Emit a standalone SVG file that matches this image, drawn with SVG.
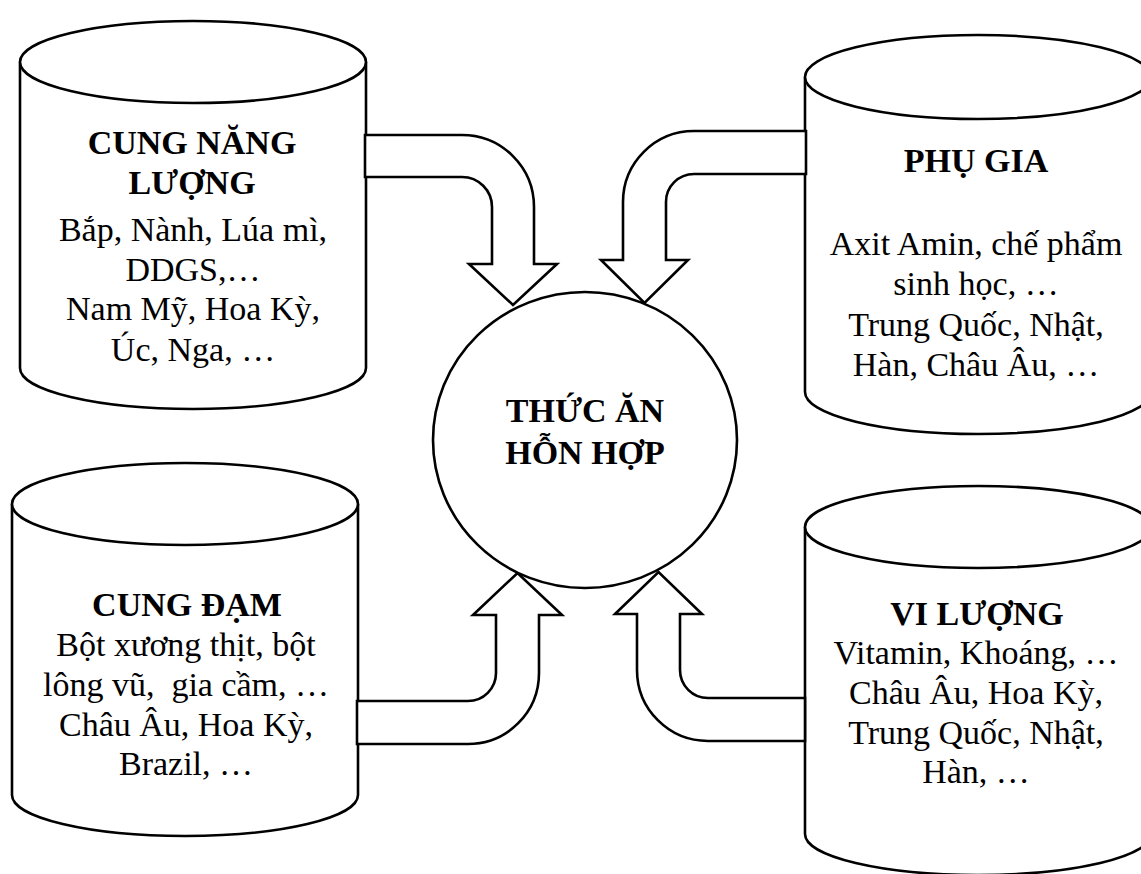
<svg xmlns="http://www.w3.org/2000/svg" width="1141" height="874" viewBox="0 0 1141 874">
  <style>
    .shape { fill: #fff; stroke: #000; stroke-width: 2.6; stroke-linejoin: miter; }
    .t { font-family: "Liberation Serif", "Times New Roman", serif; font-size: 34px; fill: #000; text-anchor: middle; }
    .b { font-weight: bold; }
  </style>
  <rect width="1141" height="874" fill="#fff"/>

  <!-- supply cylinders -->
  <g id="cung-nang-luong">
    <path class="shape" d="M20,62 V368 A173,41 0 0 0 366,368 V62"/>
    <ellipse class="shape" cx="193" cy="62" rx="173" ry="41"/>
    <text class="t b" x="192" y="154">CUNG NĂNG</text>
    <text class="t b" x="192" y="194">LƯỢNG</text>
    <text class="t" x="193" y="241">Bắp, Nành, Lúa mì,</text>
    <text class="t" x="193" y="281">DDGS,…</text>
    <text class="t" x="193" y="320">Nam Mỹ, Hoa Kỳ,</text>
    <text class="t" x="193" y="361">Úc, Nga, …</text>
  </g>

  <g id="phu-gia">
    <path class="shape" d="M805,77 V392 A173,42 0 0 0 1151,392 V77"/>
    <ellipse class="shape" cx="978" cy="77" rx="173" ry="42"/>
    <text class="t b" x="976" y="172">PHỤ GIA</text>
    <text class="t" x="976" y="255">Axit Amin, chế phẩm</text>
    <text class="t" x="976" y="295">sinh học, …</text>
    <text class="t" x="976" y="336">Trung Quốc, Nhật,</text>
    <text class="t" x="976" y="376">Hàn, Châu Âu, …</text>
  </g>

  <g id="cung-dam">
    <path class="shape" d="M12,504 V795 A173,41 0 0 0 358,795 V504"/>
    <ellipse class="shape" cx="185" cy="504" rx="173" ry="41"/>
    <text class="t b" x="187" y="616">CUNG ĐẠM</text>
    <text class="t" x="186" y="656">Bột xương thịt, bột</text>
    <text class="t" x="186" y="696" style="white-space:pre">lông vũ,  gia cầm, …</text>
    <text class="t" x="186" y="736">Châu Âu, Hoa Kỳ,</text>
    <text class="t" x="186" y="775">Brazil, …</text>
  </g>

  <g id="vi-luong">
    <path class="shape" d="M805,527 V834 A173,41 0 0 0 1151,834 V527"/>
    <ellipse class="shape" cx="978" cy="527" rx="173" ry="41"/>
    <text class="t b" x="977" y="625">VI LƯỢNG</text>
    <text class="t" x="976" y="664">Vitamin, Khoáng, …</text>
    <text class="t" x="976" y="704">Châu Âu, Hoa Kỳ,</text>
    <text class="t" x="976" y="744">Trung Quốc, Nhật,</text>
    <text class="t" x="976" y="783">Hàn, …</text>
  </g>

  <!-- bent block arrows feeding the mix -->
  <g id="connectors">
    <path class="shape" d="M365,135 H462 A72,72 0 0 1 534,207 V264 H557 L513,305 L469,264 H492 V207 A30,30 0 0 0 462,177 H365 Z"/>
    <path class="shape" d="M806,131 H694 A71,71 0 0 0 623,202 V260 H601 L644.5,303 L688,260 H666 V202 A28,28 0 0 1 694,174 H806 Z"/>
    <path class="shape" d="M357,744 H468 A71,71 0 0 0 539,673 V615 H562 L517.5,573 L473,615 H496 V673 A28,28 0 0 1 468,701 H357 Z"/>
    <path class="shape" d="M805,741 H708 A71,71 0 0 1 637,670 V614 H615 L658.5,572 L702,614 H680 V670 A28,28 0 0 0 708,698 H805 Z"/>
  </g>

  <!-- central product -->
  <g id="thuc-an-hon-hop">
    <ellipse class="shape" cx="585" cy="440" rx="152" ry="148"/>
    <text class="t b" x="585" y="422">THỨC ĂN</text>
    <text class="t b" x="585" y="464">HỖN HỢP</text>
  </g>
</svg>
